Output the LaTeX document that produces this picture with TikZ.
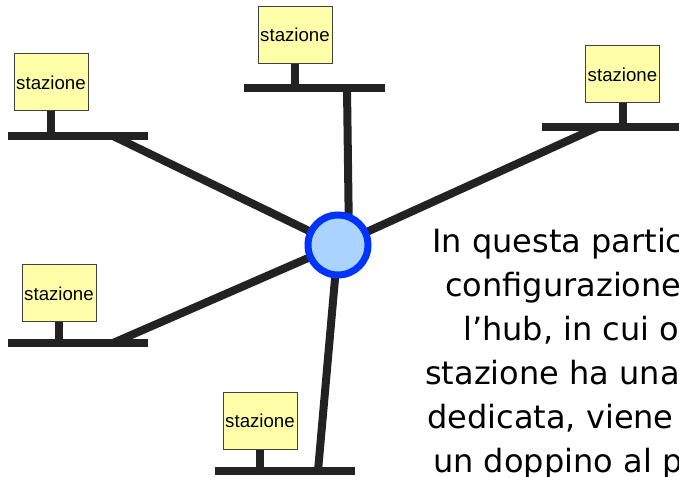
\documentclass[tikz,border=0pt]{standalone}
\usepackage{fontspec}
\setmainfont{DejaVu Sans}
\newfontfamily\arialfont{Liberation Sans}
\definecolor{cavo}{HTML}{222222}
\definecolor{giallo}{HTML}{FFFFAA}
\definecolor{hubblu}{HTML}{0033FF}
\definecolor{hubchiaro}{HTML}{AAD4FF}
\tikzset{
  stazione/.style={draw=black!75,line width=.75pt,fill=giallo,
    minimum width=55.5pt,minimum height=42.75pt,inner sep=0pt,
    font=\arialfont\fontsize{14}{16}\selectfont},
  filo/.style={draw=cavo,line width=6pt},
  hubnodo/.style={circle,draw=hubblu,fill=hubchiaro,line width=5.25pt,
    minimum size=45pt,inner sep=0pt},
  riga/.style={anchor=base west,inner sep=0pt,font=\fontsize{24}{33}\selectfont}
}
\begin{document}
\begin{tikzpicture}[x=.75pt,y=-.75pt]
 \useasboundingbox (0,0) rectangle (679,477);
 \clip (0,0) rectangle (679,477);
 \coordinate (hub) at (338,245);
 \coordinate (hubtop) at (349,240);
 % stazioni: n / centro box / y barra / estremi barra / presa
 \foreach \n/\x/\y/\b/\l/\r/\p in {1/51/82.5/136/8/148/113,
     2/295/35/88/244/385/347, 3/622.5/74.5/127/542/690/598,
     4/59/293.5/343/8/148/113, 5/260/421/471/215/355/318}{
   \node[stazione] (st\n) at (\x,\y) {stazione};
   \coordinate (tap\n) at (\p,\b);
   \draw[filo] (st\n.south) -- (st\n.south |- tap\n);
   \draw[filo] (\l,\b) -- (\r,\b);
 }
 \foreach \n in {1,3,4,5}
   \draw[filo] (tap\n) -- (hub);
 \draw[filo] (tap2) -- (hubtop);
 \node[hubnodo] (hubnode) at (hub) {};
 % testo (tagliato dal bordo)
 \foreach \i/\x/\y/\t in {1/432/253/{In questa particolare},
     2/445/297/{configurazione con}, 3/463/341/{l’hub, in cui ogni},
     4/425/385/{stazione ha una linea}, 5/427/429/{dedicata, viene usato},
     6/433/473/{un doppino al posto}}
   \node[riga] (riga\i) at (\x,\y) {\t};
\end{tikzpicture}
\end{document}
